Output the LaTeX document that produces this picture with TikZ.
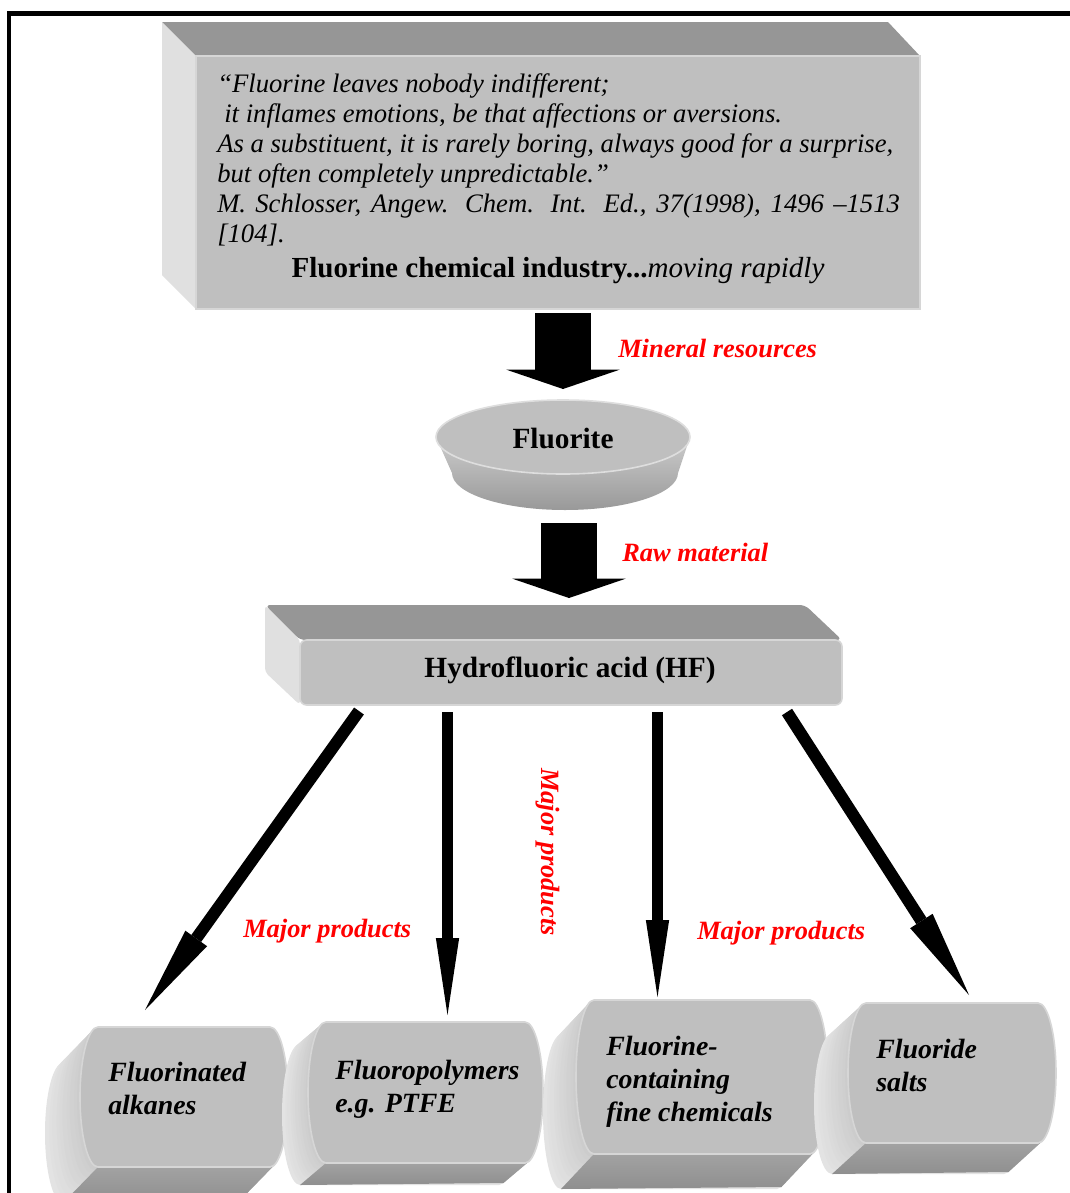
\documentclass[tikz,border=0pt]{standalone}
\usepackage{fontspec}
\setmainfont{Liberation Serif}
\usetikzlibrary{arrows.meta}
\colorlet{facefront}{black!25}
\colorlet{facetop}{black!41}
\colorlet{faceleft}{black!12}
\colorlet{faceedge}{black!16}
\newcommand\prodpath[4]{(#1+18,#3) -- (#2-18,#3) arc[start angle=-90,end angle=90,x radius=18,y radius={(#4-#3)/2}] -- (#1+18,#4) arc[start angle=90,end angle=270,x radius=18,y radius={(#4-#3)/2}] -- cycle}
\newcommand\prodshape[6]{%
  \foreach \i in {24,23,...,0}{%
    \pgfmathsetmacro\myt{\i/24}%
    \pgfmathtruncatemacro\myc{21-10*\myt}%
    \begin{scope}[shift={(\myt*#5,\myt*#6)}]
      \fill[black!\myc] \prodpath{#1}{#2}{#3}{#4};
    \end{scope}
  }
  \shade[top color=black!36,bottom color=black!44] (#1+18,#4) -- (#2-13.5,#4-2) -- (#2-13.5+#5,#4-2+#6) -- (#1+18+#5,#4+#6) -- cycle;
  \filldraw[fill=facefront,draw=faceedge,line width=1.2pt] \prodpath{#1}{#2}{#3}{#4};
}
\begin{document}
\begin{tikzpicture}[x=0.75pt,y=-0.75pt,
  lab/.style={text=red,font=\fontsize{19.8}{22}\selectfont\bfseries\itshape,inner sep=0pt},
  quoteline/.style={font=\fontsize{20}{23}\selectfont\itshape,anchor=base west,inner sep=0pt},
  prod/.style={font=\fontsize{20.9}{24.75}\selectfont\bfseries\itshape,align=left,anchor=base west,inner sep=0pt},
  boxtext/.style={font=\fontsize{22}{26}\selectfont\bfseries,inner sep=0pt},
  bigarrow/.style={line width=42pt,-{Triangle[length=14.5pt,width=85pt,line width=0pt]}},
  vertarrow/.style={line width=8.6pt,-{Triangle[length=57.75pt,width=17.5pt,line width=0pt]}},
  diagarrow/.style={line width=9pt,-{Triangle[length=66pt,width=20pt,line width=0pt]}}]
\useasboundingbox (0,0) rectangle (1070,1193);
\clip (0,0) rectangle (1070,1193);
\fill[white] (0,0) rectangle (1070,1193);
% frame
\draw[line width=3.4pt] (9,1200) -- (9,13.5) -- (1080,13.5);
% top box
\fill[facetop] (162,22) -- (888,22) -- (920,56) -- (196,56) -- cycle;
\fill[faceleft] (162,22) -- (196,56) -- (196,309) -- (162,275) -- cycle;
\filldraw[fill=facefront,draw=faceedge,line width=1.5pt] (196,56) rectangle (920,309);
\node[quoteline] (q1) at (217,92) {“Fluorine leaves nobody indifferent;};
\node[quoteline] (q2) at (224,122) {it inflames emotions, be that affections or aversions.};
\node[quoteline] (q3) at (217,152) {As a substituent, it is rarely boring, always good for a surprise,};
\node[quoteline] (q4) at (217,182) {but often completely unpredictable.”};
\node[quoteline] (q5) at (217,212) {\makebox[512pt][s]{M. Schlosser, Angew. Chem. Int. Ed., 37(1998), 1496 –1513}};
\node[quoteline] (q6) at (217,242) {[104].};
\node[font=\fontsize{21.8}{24}\selectfont,anchor=base,inner sep=0pt] (title) at (558,277) {\textbf{Fluorine chemical industry...}\textit{moving rapidly}};
% fluorite disc
\shade[top color=black!20,bottom color=black!40] (436,437) -- (452,473) arc[start angle=180,end angle=0,x radius=113,y radius=37] -- (690,437) arc[start angle=0,end angle=180,x radius=127,y radius=37] -- cycle;
\filldraw[fill=facefront,draw=black!13,line width=1.2pt] (563,437) ellipse[x radius=127,y radius=37];
\node[boxtext] (fluorite) at (563,438) {Fluorite};
% HF box
\fill[facetop,rounded corners=4pt] (265,605) -- (805,605) -- (842,640) -- (300,640) -- cycle;
\fill[faceleft,rounded corners=3pt] (265,605) -- (300,640) -- (300,705) -- (265,672) -- cycle;
\filldraw[fill=facefront,draw=faceedge,line width=1.2pt,rounded corners=5pt] (300,640) rectangle (842,705);
\node[boxtext] (hf) at (570,670) {Hydrofluoric acid (HF)};
% products
\prodshape{80}{288}{1027}{1167}{-35}{36}
\prodshape{308}{543}{1022}{1163}{-26}{22}
\prodshape{576}{828}{1000}{1154}{-33}{35}
\prodshape{848}{1056}{1003}{1143}{-34}{31}
\node[prod] (p1) at (108,1114) {Fluorinated\\alkanes};
\node[prod] (p2) at (335,1112) {Fluoropolymers\\e.g. PTFE};
\node[prod] (p3) at (606,1121) {Fluorine-\\containing\\fine chemicals};
\node[prod] (p4) at (876,1091) {Fluoride\\salts};
% arrow end points
\coordinate (b1s) at (563,313);
\coordinate (b1e) at (563,389);
\coordinate (b2s) at (569,523);
\coordinate (b2e) at (569,598);
\coordinate (a1s) at (359,711);
\coordinate (a1e) at (145,1010);
\coordinate (a2s) at (447.5,712);
\coordinate (a2e) at (447.5,1015);
\coordinate (a3s) at (657.5,712);
\coordinate (a3e) at (657.5,997);
\coordinate (a4s) at (787,712);
\coordinate (a4e) at (969,995);
\draw[bigarrow] (b1s) -- (b1e);
\draw[bigarrow] (b2s) -- (b2e);
\draw[diagarrow] (a1s) -- (a1e);
\draw[vertarrow] (a2s) -- (a2e);
\draw[vertarrow] (a3s) -- (a3e);
\draw[diagarrow] (a4s) -- (a4e);
% labels
\node[lab,anchor=west] (l1) at (618,348) {Mineral resources};
\node[lab,anchor=west] (l2) at (622,552) {Raw material};
\node[lab,anchor=west] (l3) at (243,931) {Major products};
\node[lab,rotate=-90] (l4) at (548,852) {Major products};
\node[lab,anchor=west] (l5) at (697,933) {Major products};
\end{tikzpicture}
\end{document}
